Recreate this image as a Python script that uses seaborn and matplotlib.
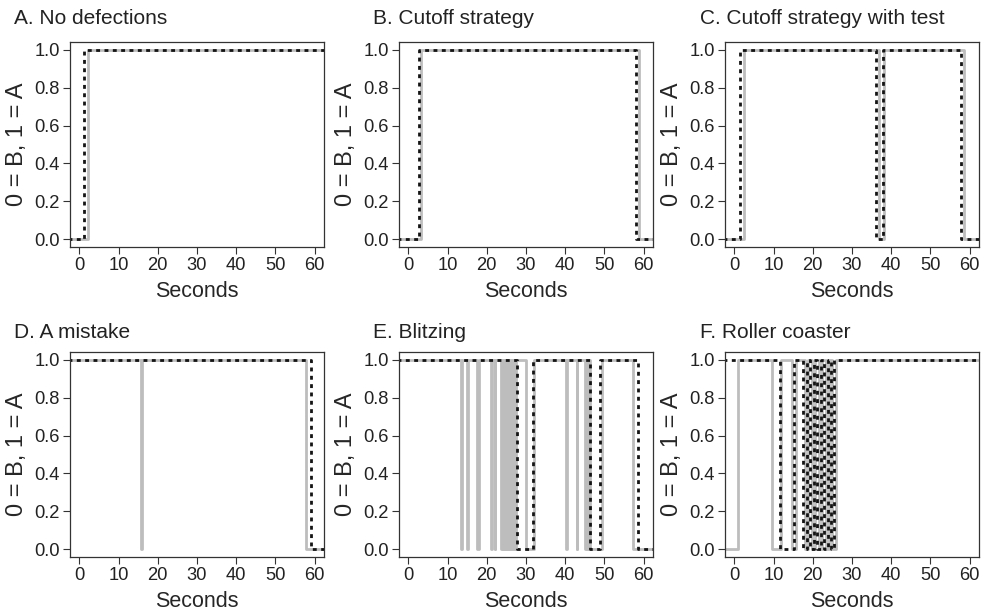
import numpy as np
import pandas as pd
import matplotlib
matplotlib.use("Agg")
import matplotlib.pyplot as plt
import seaborn as sns

# ---------------- data ----------------
titles = ["A. No defections", "B. Cutoff strategy", "C. Cutoff strategy with test",
          "D. A mistake", "E. Blitzing", "F. Roller coaster"]

t_window = [-3.0, 63.0]            # recording window (wider than plotted range)
x_ticks = [0, 10, 20, 30, 40, 50, 60]
y_ticks = [0.0, 0.2, 0.4, 0.6, 0.8, 1.0]

# initial choice (0 = B, 1 = A) and the times at which the choice switched
a_gray_start, a_gray_switch = 0, [2.2]
a_dot_start, a_dot_switch = 0, [1.2]

b_gray_start, b_gray_switch = 0, [3.1, 58.8]
b_dot_start, b_dot_switch = 0, [2.8, 58.0]

c_gray_start, c_gray_switch = 0, [2.5, 37.0, 38.1, 58.7]
c_dot_start, c_dot_switch = 0, [1.4, 36.2, 38.0, 57.9]

d_gray_start, d_gray_switch = 1, [15.6, 15.85, 57.7]
d_dot_start, d_dot_switch = 1, [59.1]

e_gray_start = 1
e_gray_switch = [13.5, 13.7, 15.0, 15.2, 17.6, 18.1, 21.0, 21.2, 22.0, 22.2,
                 23.7, 23.9, 24.1, 24.3, 24.5, 24.7, 24.9, 25.1, 25.3, 25.5,
                 25.7, 25.9, 26.1, 26.3, 26.5, 26.7, 26.9, 27.1, 27.3, 27.5,
                 30.0, 32.0, 40.3, 40.5, 42.9, 43.1,
                 45.1, 45.3, 45.5, 45.7, 45.9, 46.1, 46.3, 49.4, 57.4]
e_dot_start, e_dot_switch = 1, [27.8, 31.9, 46.2, 49.0, 58.7]

f_gray_start = 0
f_gray_switch = [0.9, 9.6, 11.9, 14.6, 15.7, 17.9, 18.8, 19.7, 20.6, 21.5,
                 22.4, 23.3, 24.2, 25.0, 25.8]
f_dot_start = 1
f_dot_switch = [11.6, 15.1, 17.5, 18.4, 19.3, 20.2, 21.1, 22.0, 22.9, 23.8,
                24.6, 25.5]

panels = [
    (a_gray_start, a_gray_switch, a_dot_start, a_dot_switch),
    (b_gray_start, b_gray_switch, b_dot_start, b_dot_switch),
    (c_gray_start, c_gray_switch, c_dot_start, c_dot_switch),
    (d_gray_start, d_gray_switch, d_dot_start, d_dot_switch),
    (e_gray_start, e_gray_switch, e_dot_start, e_dot_switch),
    (f_gray_start, f_gray_switch, f_dot_start, f_dot_switch),
]


def steps(start, switches):
    xs = [t_window[0]] + list(switches) + [t_window[1]]
    ys = []
    s = start
    ys.append(s)
    for _ in switches:
        s = 1 - s
        ys.append(s)
    ys.append(s)
    return pd.DataFrame({"t": xs, "v": ys})


# ---------------- styling ----------------
sns.set_theme(style="ticks")
plt.rcParams["font.family"] = ["Liberation Sans", "DejaVu Sans"]
plt.rcParams["axes.linewidth"] = 0.9
plt.rcParams["axes.edgecolor"] = "#333333"
plt.rcParams["xtick.color"] = "#333333"
plt.rcParams["ytick.color"] = "#333333"
plt.rcParams["xtick.labelcolor"] = "#222222"
plt.rcParams["ytick.labelcolor"] = "#222222"

W, H = 985, 615
fig = plt.figure(figsize=(W / 100, H / 100), dpi=100)

col_left = [70, 399, 725]
col_w = 254
row_top = [42, 352]
row_h = 205
title_x = [14, 373, 700]
title_base = [24, 338]

gray = "#bdbdbd"
dark = "#141414"

for i, (gs, gsw, ds, dsw) in enumerate(panels):
    r, c = divmod(i, 3)
    left = col_left[c] / W
    bottom = 1 - (row_top[r] + row_h) / H
    ax = fig.add_axes([left, bottom, col_w / W, row_h / H])

    g = steps(gs, gsw)
    d = steps(ds, dsw)
    sns.lineplot(data=g, x="t", y="v", ax=ax, color=gray, linewidth=2.0,
                 drawstyle="steps-post", estimator=None, sort=False,
                 solid_capstyle="butt")
    sns.lineplot(data=d, x="t", y="v", ax=ax, color=dark, linewidth=2.0,
                 drawstyle="steps-post", estimator=None, sort=False,
                 linestyle=(0, (1.4, 1.6)), dash_capstyle="butt")

    ax.set_xlim(-2.4, 62.4)
    ax.set_ylim(-0.04, 1.04)
    ax.set_xticks(x_ticks)
    ax.set_yticks(y_ticks)
    ax.set_yticklabels([f"{v:.1f}" for v in y_ticks])
    ax.tick_params(axis="both", direction="out", length=4.8, width=0.8,
                   labelsize=13.2, pad=2.5)
    ax.set_xlabel("Seconds", fontsize=15.5)
    ax.set_ylabel("0 = B, 1 = A", fontsize=17)
    ax.xaxis.set_label_coords(0.5, -0.165)
    ax.yaxis.set_label_coords(-0.165, 0.5)
    for sp in ax.spines.values():
        sp.set_visible(True)

    fig.text(title_x[c] / W, 1 - title_base[r] / H, titles[i],
             fontsize=15, ha="left", va="baseline", color="#222222")

fig.savefig("out.png", dpi=100)
